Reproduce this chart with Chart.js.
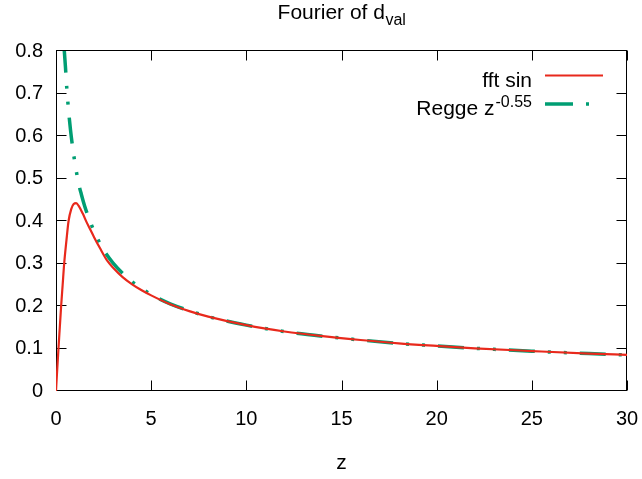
<!DOCTYPE html>
<html>
<head>
<meta charset="utf-8">
<script src="https://cdn.jsdelivr.net/npm/chart.js@4.4.0/dist/chart.umd.min.js"></script>
<style>
html,body{margin:0;padding:0;background:#fff;}
#wrap{width:642px;height:479px;position:relative;}
</style>
</head>
<body>
<div id="wrap"><canvas id="c" width="642" height="479"></canvas></div>
<script>
// ---- data ----
const fftZ   = [0, 0.05, 0.13, 0.2, 0.27, 0.35, 0.43, 0.55, 0.66, 0.8, 0.93, 1.06, 1.2, 1.4, 1.6, 1.8, 2.0, 2.3, 2.7, 3.0, 3.5, 4.0, 4.5, 5, 6, 7, 8, 10, 12, 14, 16, 18, 20, 22, 25, 28, 30];
const fftVal = [0, 0.04, 0.10, 0.15, 0.20, 0.25, 0.30, 0.355, 0.40, 0.428, 0.44, 0.442, 0.435, 0.418, 0.398, 0.38, 0.362, 0.337, 0.306, 0.29, 0.268, 0.251, 0.237, 0.225, 0.204, 0.188, 0.175, 0.155, 0.140, 0.129, 0.120, 0.112, 0.106, 0.1005, 0.094, 0.088, 0.085];
const reggeZ   = [0.42, 0.5, 0.57, 0.66, 0.76, 0.9, 1.03, 1.18, 1.33, 1.5, 1.7, 2.0, 2.5, 3.0, 3.5, 4, 5, 6, 7, 8, 10, 12, 14, 16, 18, 20, 22, 25, 28, 30];
const reggeVal = [0.81, 0.76, 0.71, 0.66, 0.615, 0.565, 0.527, 0.49, 0.463, 0.436, 0.41, 0.376, 0.332, 0.301, 0.277, 0.257, 0.227, 0.205, 0.189, 0.175, 0.155, 0.140, 0.129, 0.120, 0.112, 0.106, 0.1005, 0.0937, 0.088, 0.0847];
const xTicks = [0, 5, 10, 15, 20, 25, 30];
const yTicks = [0, 0.1, 0.2, 0.3, 0.4, 0.5, 0.6, 0.7, 0.8];
const titleMain = 'Fourier of d';
const titleSub = 'val';
const xTitle = 'z';
const legendFft = 'fft sin';
const legendRegge = 'Regge z';
const legendReggeSup = '-0.55';

const RED = '#e8291c';
const GREEN = '#009e73';
const FONT = '"Liberation Sans", Arial, Helvetica, sans-serif';
const GREEN_DASH = [26, 13, 3, 13, 3, 13];

function zip(xs, ys){ return xs.map((x,i)=>({x:x, y:ys[i]})); }

const framePlugin = {
  id: 'frame',
  beforeDatasetsDraw(chart){
    const ctx = chart.ctx, a = chart.chartArea;
    const xs = chart.scales.x, ys = chart.scales.y;
    ctx.save();
    ctx.strokeStyle = '#000';
    ctx.lineWidth = 1;
    const L = Math.round(a.left)+0.5, R = Math.round(a.right)-0.5, T = Math.round(a.top)-0.5, B = Math.round(a.bottom)-0.5;
    ctx.beginPath();
    const tl = 10;
    xTicks.forEach(v=>{
      const p = Math.round(xs.getPixelForValue(v))+0.5;
      ctx.moveTo(p, B); ctx.lineTo(p, B-tl);
      ctx.moveTo(p, T); ctx.lineTo(p, T+tl);
    });
    yTicks.forEach(v=>{
      const p = Math.round(ys.getPixelForValue(v))-0.5;
      ctx.moveTo(L, p); ctx.lineTo(L+tl, p);
      ctx.moveTo(R, p); ctx.lineTo(R-tl, p);
    });
    ctx.stroke();
    ctx.strokeRect(L, T, R-L, B-T);
    ctx.restore();
  },
  afterDraw(chart){
    const ctx = chart.ctx, a = chart.chartArea;
    ctx.save();
    ctx.fillStyle = '#000';
    ctx.textBaseline = 'alphabetic';
    // title
    const fMain = '21px ' + FONT, fSub = '16px ' + FONT;
    ctx.font = fMain; const w1 = ctx.measureText(titleMain).width;
    ctx.font = fSub; const w2 = ctx.measureText(titleSub).width;
    const cx = 341.5;
    let x0 = cx - (w1+w2)/2;
    ctx.textAlign = 'left';
    ctx.font = fMain; ctx.fillText(titleMain, x0, 18.5);
    ctx.font = fSub; ctx.fillText(titleSub, x0 + w1 + 0.5, 24.5);
    // x axis title
    ctx.font = '21px ' + FONT;
    ctx.textAlign = 'center';
    ctx.fillText(xTitle, (a.left+a.right)/2, 469);
    // legend
    const rx = 532;
    ctx.textAlign = 'right';
    ctx.font = '21px ' + FONT;
    ctx.fillText(legendFft, rx, 86.5);
    ctx.font = '16px ' + FONT;
    const supW = ctx.measureText(legendReggeSup).width;
    ctx.fillText(legendReggeSup, rx, 106.5);
    ctx.font = '21px ' + FONT;
    ctx.fillText(legendRegge, rx - supW - 1, 114.5);
    // legend samples
    ctx.lineCap = 'butt';
    ctx.strokeStyle = RED; ctx.lineWidth = 2.2;
    ctx.beginPath(); ctx.moveTo(545, 75.5); ctx.lineTo(603, 75.5); ctx.stroke();
    ctx.strokeStyle = GREEN; ctx.lineWidth = 3.5;
    ctx.setLineDash([28, 13, 3, 20]);
    ctx.beginPath(); ctx.moveTo(545, 104); ctx.lineTo(603, 104); ctx.stroke();
    ctx.restore();
  }
};

new Chart(document.getElementById('c'), {
  type: 'line',
  data: {
    datasets: [
      { label: legendFft, data: zip(fftZ, fftVal), borderColor: RED, borderWidth: 2.2,
        pointRadius: 0, fill: false, cubicInterpolationMode: 'monotone' },
      { label: legendRegge, data: zip(reggeZ, reggeVal), borderColor: GREEN, borderWidth: 3.5,
        borderDash: GREEN_DASH, borderCapStyle: 'butt', pointRadius: 0, fill: false, cubicInterpolationMode: 'monotone' }
    ]
  },
  options: {
    responsive: false,
    animation: false,
    devicePixelRatio: 1,
    layout: { padding: { left: 0, right: 15, top: 51, bottom: 0 } },
    plugins: { legend: { display: false }, title: { display: false }, tooltip: { enabled: false } },
    scales: {
      x: {
        type: 'linear', min: 0, max: 30,
        grid: { display: false, drawTicks: false },
        border: { display: false },
        afterBuildTicks: s => { s.ticks = xTicks.map(v => ({ value: v })); },
        ticks: { color: '#000', font: { family: FONT, size: 20 }, padding: 16, maxRotation: 0,
                 callback: v => String(v) },
        afterFit: s => { s.height = 88; s.paddingLeft = 0; s.paddingRight = 0; }
      },
      y: {
        type: 'linear', min: 0, max: 0.8,
        grid: { display: false, drawTicks: false },
        border: { display: false },
        afterBuildTicks: s => { s.ticks = yTicks.map(v => ({ value: v })); },
        ticks: { color: '#000', font: { family: FONT, size: 20 }, padding: 13,
                 callback: v => (v === 0 ? '0' : v.toFixed(1)) },
        afterFit: s => { s.width = 56; s.paddingTop = 0; s.paddingBottom = 0; }
      }
    }
  },
  plugins: [framePlugin]
});
</script>
</body>
</html>
